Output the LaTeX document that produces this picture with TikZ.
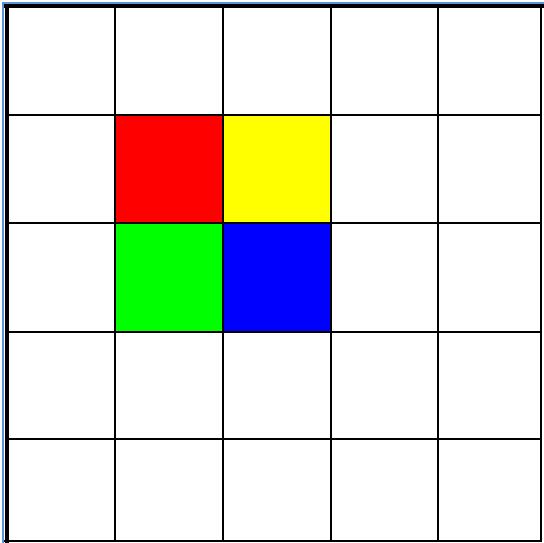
\documentclass[tikz,border=0pt]{standalone}
\begin{document}
\begin{tikzpicture}[x=1pt,y=-1pt,
  gridline/.style={draw=black,line width=2pt},
  cell/.style={draw=none}]
\definecolor{frameblue}{RGB}{95,145,220}
\definecolor{cred}{RGB}{255,0,0}
\definecolor{cyellow}{RGB}{255,255,0}
\definecolor{cgreen}{RGB}{0,255,0}
\definecolor{cblue}{RGB}{0,0,255}
\useasboundingbox (0,0) rectangle (544,543);
\fill[white] (0,0) rectangle (544,543);
% coloured cells
\fill[cred]    (114.5,115) rectangle (222.5,223.3);
\fill[cyellow] (222.5,115) rectangle (330.5,223.3);
\fill[cgreen]  (114.5,223.3) rectangle (222.5,332);
\fill[cblue]   (222.5,223.3) rectangle (330.5,332);
% inner grid lines
\foreach \x in {114.5,222.5,330.5,438.2}
  \draw[gridline] (\x,6) -- (\x,541);
\foreach \y in {115,223.3,332,438.5}
  \draw[gridline] (6.5,\y) -- (541.3,\y);
% outer frame
\draw[black,line width=2pt] (541.3,4) -- (541.3,542);
\draw[black,line width=2pt] (4,541) -- (542.3,541);
\draw[black,line width=4pt] (6.5,4) -- (6.5,543);
\draw[black,line width=4pt] (4,6) -- (544,6);
% blue window edge
\draw[frameblue,line width=2.5pt] (2.9,1.7) -- (2.9,543);
\draw[frameblue,line width=2.5pt] (1.7,2.9) -- (544,2.9);
\end{tikzpicture}
\end{document}
